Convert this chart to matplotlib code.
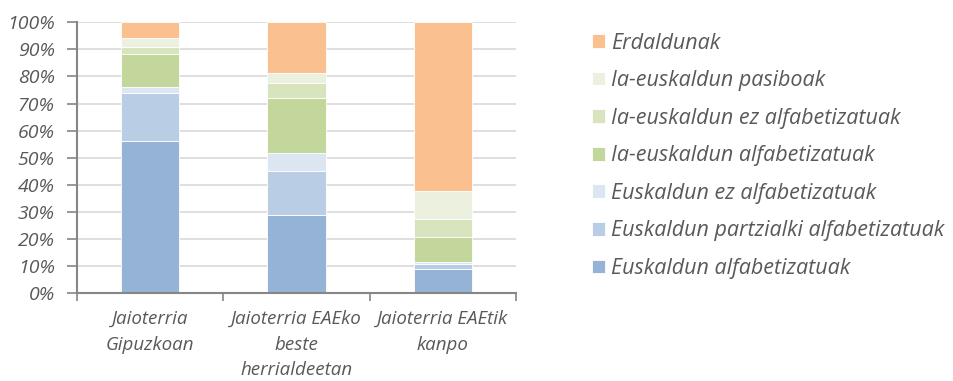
import numpy as np
import matplotlib.pyplot as plt
import matplotlib as mpl

mpl.rcParams.update({
    'font.family': ['Open Sans', 'DejaVu Sans'],
    'font.style': 'italic',
    'text.color': '#595959',
})
GREY_TXT = '#595959'
AXIS = '#868686'
GRID = '#D9D9D9'

categories = ['Jaioterria\nGipuzkoan',
              'Jaioterria EAEko\nbeste\nherrialdeetan',
              'Jaioterria EAEtik\nkanpo']

# shares (%) per group, bottom to top
series_names = ['Euskaldun alfabetizatuak',
                'Euskaldun partzialki alfabetizatuak',
                'Euskaldun ez alfabetizatuak',
                'Ia-euskaldun alfabetizatuak',
                'Ia-euskaldun ez alfabetizatuak',
                'Ia-euskaldun pasiboak',
                'Erdaldunak']
eusk_alf     = [56.3, 29.0, 9.1]
eusk_partz   = [17.7, 16.1, 1.6]
eusk_ez_alf  = [2.2, 6.6, 0.7]
ia_alf       = [12.0, 20.5, 9.5]
ia_ez_alf    = [2.8, 5.5, 6.5]
ia_pasiboak  = [3.3, 3.6, 10.5]
erdaldunak   = [5.7, 18.7, 62.1]
series_vals = [eusk_alf, eusk_partz, eusk_ez_alf, ia_alf, ia_ez_alf,
               ia_pasiboak, erdaldunak]
colors = ['#95B3D7', '#B9CDE5', '#DCE6F2', '#C3D69B', '#D7E4BD',
          '#EBF1DE', '#FAC090']

fig = plt.figure(figsize=(9.54, 3.81), dpi=100)
ax = fig.add_axes([0.0807, 0.2302, 0.4602, 0.7113])

x = np.arange(len(categories))
bottom = np.zeros(len(categories))
handles = []
for name, vals, col in zip(series_names, series_vals, colors):
    b = ax.bar(x, vals, width=0.4, bottom=bottom, color=col,
               edgecolor='white', linewidth=0.6, label=name, zorder=2)
    handles.append(b)
    bottom += np.array(vals)

ax.set_xlim(-0.5, 2.5)
ax.set_ylim(0, 100)
ax.set_yticks(np.arange(0, 101, 10))
ax.set_yticklabels([f'{v}%' for v in range(0, 101, 10)], fontsize=14,
                   color=GREY_TXT)
ax.yaxis.grid(True, color=GRID, linewidth=1.2, zorder=0)
ax.set_axisbelow(True)

ax.set_xticks(x)
ax.set_xticklabels(categories, fontsize=13.5, color=GREY_TXT,
                   linespacing=1.55)
ax.tick_params(axis='x', which='major', length=0, pad=12)
ax.set_xticks([-0.5, 0.5, 1.5, 2.5], minor=True)
ax.tick_params(axis='x', which='minor', length=6, width=1.2, color=AXIS,
               direction='out')
ax.tick_params(axis='y', length=7, width=1.2, color=AXIS, pad=9)

for s in ['top', 'right']:
    ax.spines[s].set_visible(False)
for s in ['left', 'bottom']:
    ax.spines[s].set_color(AXIS)
    ax.spines[s].set_linewidth(1.5)

leg = fig.legend(handles[::-1], series_names[::-1], loc='upper left',
                 bbox_to_anchor=(0.612, 0.937), frameon=False,
                 fontsize=15.5, handlelength=0.6, handleheight=0.6,
                 handletextpad=0.28, labelspacing=0.77, borderaxespad=0)
for t in leg.get_texts():
    t.set_color(GREY_TXT)

fig.savefig('out.png', dpi=100)
